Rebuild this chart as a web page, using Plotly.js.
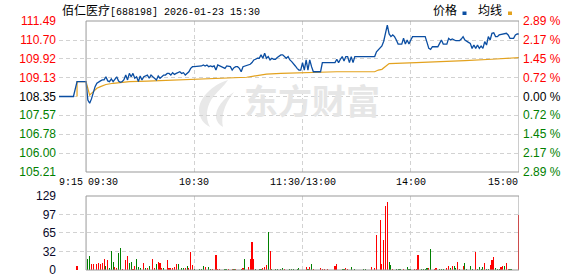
<!DOCTYPE html>
<html><head><meta charset="utf-8">
<script src="https://cdn.plot.ly/plotly-3.0.1.min.js"></script>
<style>html,body{margin:0;padding:0;background:#fff}#chart{width:578px;height:276px}</style>
</head><body><div id="chart"></div>
<script>
// ---------- data ----------
const stockName = '佰仁医疗';
const stockInfo = '[688198] 2026-01-23 15:30';
const prevClose = 108.35;
const legendNames = ['价格', '均线'];
// pre-market (minutes relative to 09:30)
const preT = [-15, -7, -5];
const preV = [108.35, 108.35, 108.97];
// one price per trading minute, 09:30 .. 11:30/13:00 .. 15:00 (index = minute)
const sessV = [
  108.97,108.20,108.07,108.25,108.51,108.76,108.90,108.97,109.00,109.04,
  109.04,109.17,109.00,108.97,109.08,108.97,109.05,109.17,108.99,108.94,
  108.97,109.05,109.24,109.04,109.31,109.17,109.31,109.11,109.17,108.97,
  109.20,109.04,109.17,109.22,109.24,109.11,109.24,109.17,109.11,109.04,
  109.20,109.11,109.17,109.24,109.24,109.31,109.31,109.24,109.34,109.27,
  109.31,109.34,109.38,109.31,109.34,109.24,109.31,109.38,109.52,109.59,
  109.59,109.59,109.62,109.62,109.62,109.66,109.62,109.66,109.59,109.62,
  109.59,109.62,109.45,109.66,109.62,109.59,109.55,109.52,109.62,109.59,
  109.59,109.45,109.55,109.59,109.59,109.52,109.38,109.59,109.62,109.66,
  109.69,109.69,109.76,109.87,109.90,109.94,109.94,110.08,109.94,110.15,
  109.94,110.01,109.87,109.94,109.90,109.90,109.97,110.01,110.08,110.08,
  110.01,109.94,110.01,109.87,109.80,109.73,109.62,109.52,109.45,109.45,
  109.76,109.45,109.87,109.45,109.87,109.59,109.38,109.38,109.38,109.38,
  109.38,109.76,109.76,109.76,109.76,109.76,109.76,109.76,109.76,109.90,
  109.76,109.90,110.01,109.83,110.01,110.01,109.76,110.01,109.76,110.01,
  110.01,110.01,110.01,110.01,110.01,110.01,110.01,110.01,110.01,110.01,
  110.01,110.21,110.28,110.35,110.45,110.65,110.98,111.32,110.95,110.84,
  110.91,110.84,110.70,110.53,110.53,110.53,110.77,110.53,110.70,110.53,
  110.70,110.84,110.84,110.84,110.84,110.84,110.84,110.84,110.84,110.60,
  110.35,110.31,110.42,110.42,110.42,110.42,110.56,110.70,110.53,110.53,
  110.53,110.77,110.70,110.74,110.70,110.67,110.67,110.67,110.74,110.84,
  110.70,110.63,110.60,110.56,110.35,110.49,110.35,110.49,110.35,110.45,
  110.35,110.63,110.49,110.84,110.70,110.98,111.00,110.84,110.84,110.91,
  110.93,110.95,110.95,110.98,110.91,110.77,110.77,110.77,110.91,110.95,
  110.95
];
// average price line
const avgT = [-5,-5,0,1,2,3,4,6,8,11,15,21,24,34,46,58,70,82,89,93,100,108,120,138,139,160,162,164,166,168,183,200,210,225,233,240];
const avgV = [108.35,108.97,108.97,108.62,108.41,108.48,108.55,108.69,108.76,108.85,108.90,108.94,108.97,108.99,109.02,109.07,109.09,109.11,109.15,109.20,109.28,109.31,109.34,109.36,109.38,109.38,109.45,109.48,109.62,109.72,109.76,109.80,109.84,109.90,109.94,109.97];
// volume bars (minute, volume, 1 = up/red, 0 = down/green)
const volT = [-5,1,2,3,4,6,7,8,9,10,11,12,13,14,15,16,17,18,19,20,22,23,24,25,26,27,28,29,30,32,33,34,35,37,38,39,40,41,42,43,45,46,47,48,49,50,51,53,54,55,56,57,58,59,60,63,64,65,66,68,69,70,72,73,74,77,78,79,81,82,83,86,87,88,90,91,92,93,94,96,97,98,99,100,101,102,103,105,106,108,109,110,113,114,115,117,118,122,123,124,125,126,130,131,132,134,138,139,142,143,144,145,147,149,154,155,158,160,161,163,164,165,166,167,168,169,170,172,173,174,176,178,179,180,182,183,184,186,187,188,189,190,191,193,194,196,197,198,200,201,202,203,204,205,206,207,209,210,211,213,214,216,217,218,219,220,221,222,223,224,225,226,227,228,229,230,231,232,233,234,235,236,240];
const volV = [7,19,24,10,10,10,13,10,12,19,7,18,3,33,14,5,3,30,38,2,18,24,13,14,2,7,20,5,3,12,3,3,7,19,3,10,14,12,3,3,18,3,4,4,6,10,10,3,3,3,7,3,31,9,2,2,2,7,5,5,2,2,26,2,2,2,2,2,2,2,2,2,3,20,5,20,49,19,2,2,2,4,6,8,67,33,2,2,2,2,4,2,2,2,2,2,4,5,2,5,10,2,4,2,2,2,7,10,2,2,4,2,5,2,2,2,5,4,61,87,10,52,112,119,14,9,2,2,2,2,2,5,2,2,2,2,26,2,2,2,3,3,36,2,4,2,2,2,4,7,4,7,7,3,14,2,7,12,2,7,2,31,2,5,2,5,12,2,2,9,17,23,4,2,2,5,7,7,12,2,2,2,96];
const volUp = [1,0,0,1,1,1,1,1,1,1,0,1,0,0,0,1,1,0,0,1,1,1,0,0,1,1,0,0,0,1,0,1,0,1,1,0,1,1,1,0,1,1,1,1,1,1,0,0,0,1,0,1,1,1,0,0,0,0,1,0,0,1,1,1,1,0,0,1,1,0,1,0,1,0,1,1,1,1,0,0,0,1,1,1,0,1,0,0,0,0,0,1,0,0,0,0,0,1,0,1,0,1,1,1,1,1,1,1,0,0,1,1,0,0,0,0,1,1,1,1,1,1,1,1,0,0,1,0,0,0,1,0,0,0,1,1,1,0,0,0,0,1,0,1,1,0,0,0,1,1,0,1,0,0,1,1,1,0,0,0,0,1,0,0,0,0,1,0,0,1,1,1,0,0,0,1,1,0,1,1,0,0,1];
// axis ticks
const priceTicks = [111.49,110.70,109.92,109.13,108.35,107.57,106.78,106.00,105.21];
const priceTickText = ['111.49','110.70','109.92','109.13','108.35','107.57','106.78','106.00','105.21'];
const pctTickText = ['2.89 %','2.17 %','1.45 %','0.72 %','0.00 %','0.72 %','1.45 %','2.17 %','2.89 %'];
const volTicks = [0,32,65,97,129];
const volTickText = ['0','32','65','97','129'];
const timeTicks = [-15,0,60,120,180,240];
const timeText = ['9:15','09:30','10:30','11:30/13:00','14:00','15:00'];

// ---------- layout helpers ----------
const W = 578, H = 276, L = 59, R = 59, T = 21, B = 6;
const plotW = W - L - R, plotH = H - T - B;
const px2x = px => (px - L) / plotW;
const py2y = py => (H - B - py) / plotH;
const priceDom = [py2y(172), 1];
const volDom = [0, py2y(196)];
const RED = '#ff0000', GREEN = '#008000', DARK = '#000000';
const colorFor = p => p > prevClose + 1e-9 ? RED : (p < prevClose - 1e-9 ? GREEN : DARK);
const span = (c, t) => `<span style="color:${c}">${t}</span>`;
const gridC = '#d2d2d2', gridDash = '4px,3px', frameC = '#999999';

const sessT = sessV.map((_, i) => i);
const lineT = preT.concat(sessT);
const lineV = preV.concat(sessV);

const traces = [
  {type:'bar', x: volT, y: volV, xaxis:'x2', yaxis:'y2', width: 0.62,
   marker:{color: volUp.map(u => u ? RED : GREEN), line:{width:0}}, hoverinfo:'skip'},
  {type:'scatter', mode:'lines', x: avgT, y: avgV, xaxis:'x', yaxis:'y',
   line:{color:'#e3a21e', width:1.2}, hoverinfo:'skip'},
  {type:'scatter', mode:'lines', x: lineT, y: lineV, xaxis:'x', yaxis:'y',
   line:{color:'#0b4ea2', width:1.3}, hoverinfo:'skip'},
  {type:'scatter', mode:'markers', x:[0], y:[prevClose], xaxis:'x', yaxis:'y3',
   marker:{opacity:0}, hoverinfo:'skip'}
];

const xCommon = {range:[-15,240], tickvals:[-15,60,120,180], showticklabels:false,
  showgrid:true, gridcolor:gridC, griddash:gridDash, gridwidth:1, zeroline:false,
  showline:false, ticks:'', fixedrange:true};

const annotations = [];
// title
annotations.push({xref:'paper', yref:'paper', x: px2x(60), y: py2y(9.5), xanchor:'left', yanchor:'middle',
  showarrow:false,
  text:`<span style="font-family:Noto Sans CJK SC;font-size:12px">${stockName}</span><span style="font-family:Liberation Mono;font-size:10px">${stockInfo}</span>`,
  font:{color:'#000', size:12}});
// legend
annotations.push({xref:'paper', yref:'paper', x: px2x(431), y: py2y(9.5), xanchor:'left', yanchor:'middle',
  showarrow:false, text: legendNames[0], font:{family:'Noto Sans CJK SC', size:12, color:'#000'}});
annotations.push({xref:'paper', yref:'paper', x: px2x(476), y: py2y(9.5), xanchor:'left', yanchor:'middle',
  showarrow:false, text: legendNames[1], font:{family:'Noto Sans CJK SC', size:12, color:'#000'}});
// x tick labels
const anchors = ['left','left','center','center','center','right'];
const shifts = [-2, 0, 0, 0, 0, 1];
timeTicks.forEach((t, i) => annotations.push({xref:'x', yref:'paper', x:t, y: py2y(182),
  xanchor: anchors[i], yanchor:'middle', xshift: shifts[i], showarrow:false, text: timeText[i],
  font:{family:'Liberation Mono', size:10, color:'#000'}}));
// watermark text
annotations.push({xref:'paper', yref:'paper', x: px2x(312), y: py2y(100), xanchor:'center', yanchor:'middle',
  showarrow:false, text:'东方财富', font:{family:'Noto Sans CJK SC', size:34, color:'#e6e6e6', weight:700}});

function pathPx(pts) {
  return pts.map((p, i) => (p[0] === 'C' ? 'C' : (i === 0 ? 'M' : 'L')) +
    (p[0] === 'C' ? p.slice(1).map(q => px2x(q[0]) + ',' + py2y(q[1])).join(' ')
                  : px2x(p[0]) + ',' + py2y(p[1]))).join(' ') + ' Z';
}
const shapes = [
  {type:'rect', xref:'x', yref:'paper', x0:0, x1:240, y0:priceDom[0], y1:priceDom[1], line:{color:frameC, width:1}},
  {type:'rect', xref:'x2', yref:'paper', x0:0, x1:240, y0:volDom[0], y1:volDom[1], line:{color:frameC, width:1}},
  {type:'rect', xref:'paper', yref:'paper', x0:px2x(462.5), x1:px2x(466.5), y0:py2y(15), y1:py2y(11.5), fillcolor:'#0b4ea2', line:{width:0}},
  {type:'rect', xref:'paper', yref:'paper', x0:px2x(508), x1:px2x(512), y0:py2y(15), y1:py2y(11.5), fillcolor:'#e3a21e', line:{width:0}},
  {type:'path', xref:'paper', yref:'paper', layer:'below', fillcolor:'#e8e8e8', line:{width:0},
   path: pathPx([[228,80], ['C',[212,85],[199,98],[199,110]], ['C',[199,118],[204,124],[210,127]], ['C',[205,118],[206,105],[214,96]], ['C',[219,90],[224,86],[228,80]]])},
  {type:'path', xref:'paper', yref:'paper', layer:'below', fillcolor:'#e8e8e8', line:{width:0},
   path: pathPx([[234,92], ['C',[224,98],[215,108],[216,118]], ['C',[217,122],[219,125],[223,127]], ['C',[221,118],[223,106],[234,92]]])}
];

const layout = {
  width: W, height: H, margin:{l:L, r:R, t:T, b:B, pad:0},
  paper_bgcolor:'#fff', plot_bgcolor:'rgba(0,0,0,0)', showlegend:false, hovermode:false,
  font:{family:'Liberation Sans, Arial, sans-serif', size:12, color:'#000'},
  xaxis: Object.assign({}, xCommon, {domain:[0,1], anchor:'y'}),
  xaxis2: Object.assign({}, xCommon, {domain:[0,1], anchor:'y2'}),
  yaxis: {domain: priceDom, range:[105.21,111.49], anchor:'x', tickvals: priceTicks,
    ticktext: priceTicks.map((v, i) => span(colorFor(v), priceTickText[i])),
    showgrid:true, gridcolor:gridC, griddash:gridDash, zeroline:false, showline:false, ticks:'',
    ticklabelstandoff:2, ticklabeloverflow:'allow', tickfont:{size:12}, fixedrange:true},
  yaxis3: {overlaying:'y', side:'right', anchor:'x', range:[105.21,111.49], tickvals: priceTicks,
    ticktext: priceTicks.map((v, i) => span(colorFor(v), pctTickText[i])),
    showgrid:false, zeroline:false, showline:false, ticks:'', ticklabelstandoff:3,
    ticklabeloverflow:'allow', tickfont:{size:12}, fixedrange:true},
  yaxis2: {domain: volDom, range:[0,129], anchor:'x2', tickvals: volTicks, ticktext: volTickText,
    showgrid:true, gridcolor:gridC, griddash:gridDash, zeroline:false, showline:false, ticks:'',
    ticklabelstandoff:2, ticklabeloverflow:'allow', tickfont:{size:12, color:'#0a0a2a'}, fixedrange:true},
  bargap:0,
  annotations, shapes
};
Plotly.newPlot('chart', traces, layout, {staticPlot:true, displayModeBar:false});
</script>
</body></html>
